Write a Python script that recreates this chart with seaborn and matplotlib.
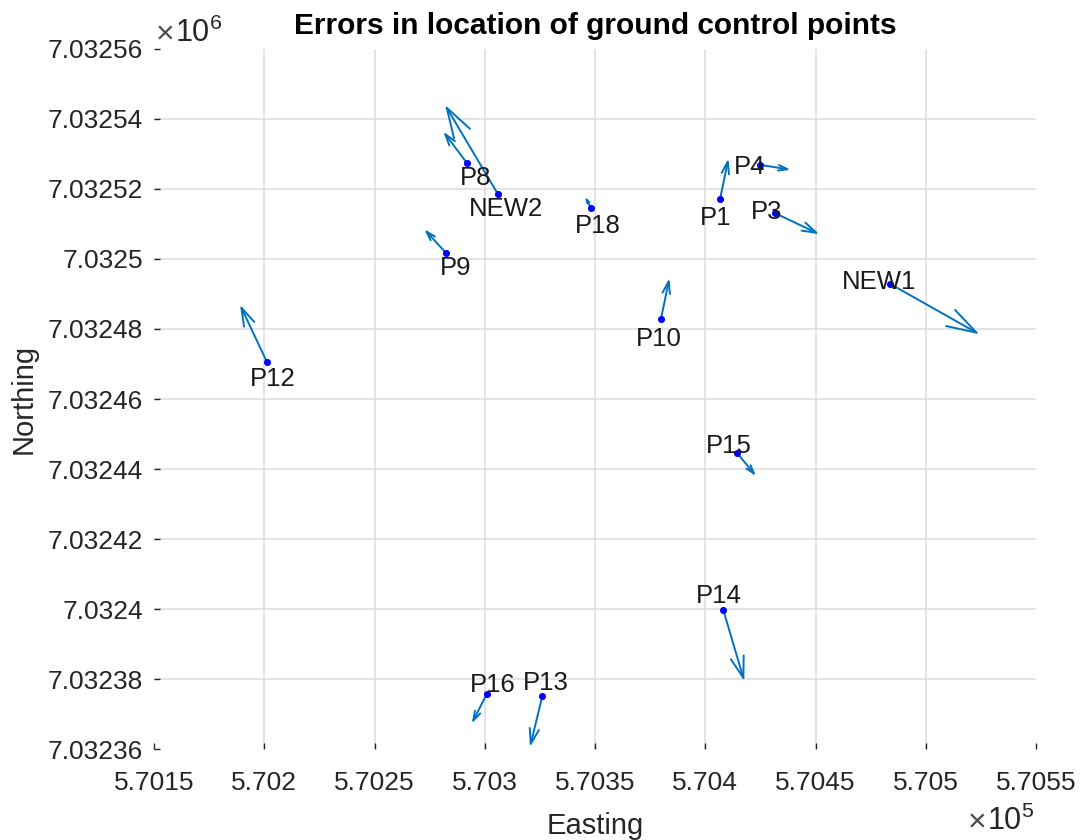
import numpy as np
import pandas as pd
import matplotlib
matplotlib.use("Agg")
import matplotlib.pyplot as plt
import seaborn as sns

# Ground control points (UTM easting / northing, metres) and their location errors
names = ["P1", "P3", "P4", "P8", "P9", "P10", "P12", "P13", "P14", "P15", "P16", "P18", "NEW1", "NEW2"]
easting = [570406.7, 570431.6, 570424.8, 570291.8, 570282.3, 570379.9, 570201.1,
           570326.1, 570408.2, 570414.5, 570300.9, 570348.2, 570483.8, 570305.9]
northing = [7032517.1, 7032513.1, 7032526.9, 7032527.5, 7032501.8, 7032482.8, 7032470.7,
            7032375.1, 7032399.7, 7032444.5, 7032375.7, 7032514.5, 7032492.9, 7032518.6]
err_east = [3.8, 20.1, 13.9, -10.6, -9.7, 3.8, -12.1, -5.6, 9.5, 8.5, -6.8, -2.7, 40.5, -23.9]
err_north = [11.6, -6.0, -1.4, 8.9, 6.7, 11.7, 16.2, -14.5, -20.3, -6.5, -8.4, 3.3, -14.4, 25.4]

x_ticks = [570150, 570200, 570250, 570300, 570350, 570400, 570450, 570500, 570550]
y_ticks = [7032360, 7032380, 7032400, 7032420, 7032440, 7032460, 7032480, 7032500,
           7032520, 7032540, 7032560]

# Label placement around each point (pixels: right, up)
label_offsets = {
    "P1": (-4, -19), "P3": (-8, 1), "P4": (-10, -2), "P8": (9, -15), "P9": (10, -15),
    "P10": (-2, -20), "P12": (6, -17), "P13": (3, 13), "P14": (-5, 14), "P15": (-8, 7),
    "P16": (6, 9), "P18": (7, -18), "NEW1": (-11, 2), "NEW2": (8, -15),
}

df = pd.DataFrame({"name": names, "E": easting, "N": northing,
                   "dE": err_east, "dN": err_north})

sns.set_style("white")
plt.rcParams["font.family"] = ["Liberation Sans", "DejaVu Sans"]
plt.rcParams["mathtext.default"] = "regular"

TXT = (0.15, 0.15, 0.15)
ARROW = "#0072BD"
DPI = 100

fig = plt.figure(figsize=(10.87, 8.40), dpi=DPI)
ax = fig.add_axes([0.1417, 0.1083, 0.8114, 0.8334])

ax.set_xlim(x_ticks[0], x_ticks[-1])
ax.set_ylim(y_ticks[0], y_ticks[-1])
ax.set_xticks(x_ticks)
ax.set_yticks(y_ticks)
ax.set_xticklabels([f"{v / 1e5:g}" for v in x_ticks])
ax.set_yticklabels([f"{v / 1e6:g}" for v in y_ticks])

for s in ax.spines.values():
    s.set_visible(False)
ax.tick_params(axis="both", direction="in", length=4, width=1, colors=TXT,
               labelsize=19, bottom=True, left=True, top=False, right=False)
ax.tick_params(axis="x", pad=16)
ax.tick_params(axis="y", pad=8)

# interior grid lines
for xv in x_ticks[1:-1]:
    ax.axvline(xv, color=(0.86, 0.86, 0.86), lw=1.1, zorder=0)
for yv in y_ticks[1:-1]:
    ax.axhline(yv, color=(0.86, 0.86, 0.86), lw=1.1, zorder=0)

# error vectors with open arrow heads sized to each vector
for _, r in df.iterrows():
    p0 = ax.transData.transform((r.E, r.N))
    p1 = ax.transData.transform((r.E + r.dE, r.N + r.dN))
    L = float(np.hypot(*(p1 - p0)))
    hl = 0.29 * L * 72 / DPI
    hw = 0.09 * L * 72 / DPI
    ax.annotate("", xy=(r.E + r.dE, r.N + r.dN), xytext=(r.E, r.N),
                xycoords="data", textcoords="data",
                arrowprops=dict(arrowstyle=f"->,head_length={hl:.2f},head_width={hw:.2f}",
                                mutation_scale=1, color=ARROW, lw=1.4,
                                shrinkA=0, shrinkB=0),
                zorder=2)

sns.scatterplot(data=df, x="E", y="N", color="blue", s=26, linewidth=0,
                ax=ax, zorder=3, legend=False)

for _, r in df.iterrows():
    dx, dy = label_offsets[r["name"]]
    ax.annotate(r["name"], xy=(r.E, r.N), xytext=(dx, dy), textcoords="offset pixels",
                ha="center", va="center", fontsize=18.5, color=(0.1, 0.1, 0.1), zorder=4)

ax.set_xlabel("Easting", fontsize=21, color=TXT, labelpad=12)
ax.set_ylabel("Northing", fontsize=21, color=TXT, labelpad=7)
ax.set_title("Errors in location of ground control points", fontsize=21.5,
             fontweight="bold", color="black", pad=11)

# axis exponent markers: multiplication sign followed by the power of ten
def exponent_marker(x_px, base_px, power):
    fig.text(x_px / 1087, 1 - (base_px + 1) / 840, "\u00d7", fontsize=23,
             color=(0.3, 0.3, 0.3), ha="left", va="baseline")
    fig.text((x_px + 19) / 1087, 1 - base_px / 840, f"10$^{{{power}}}$", fontsize=22,
             color=TXT, ha="left", va="baseline")

exponent_marker(156, 42, 6)
exponent_marker(968, 830, 5)

fig.savefig("out.png", dpi=DPI)
